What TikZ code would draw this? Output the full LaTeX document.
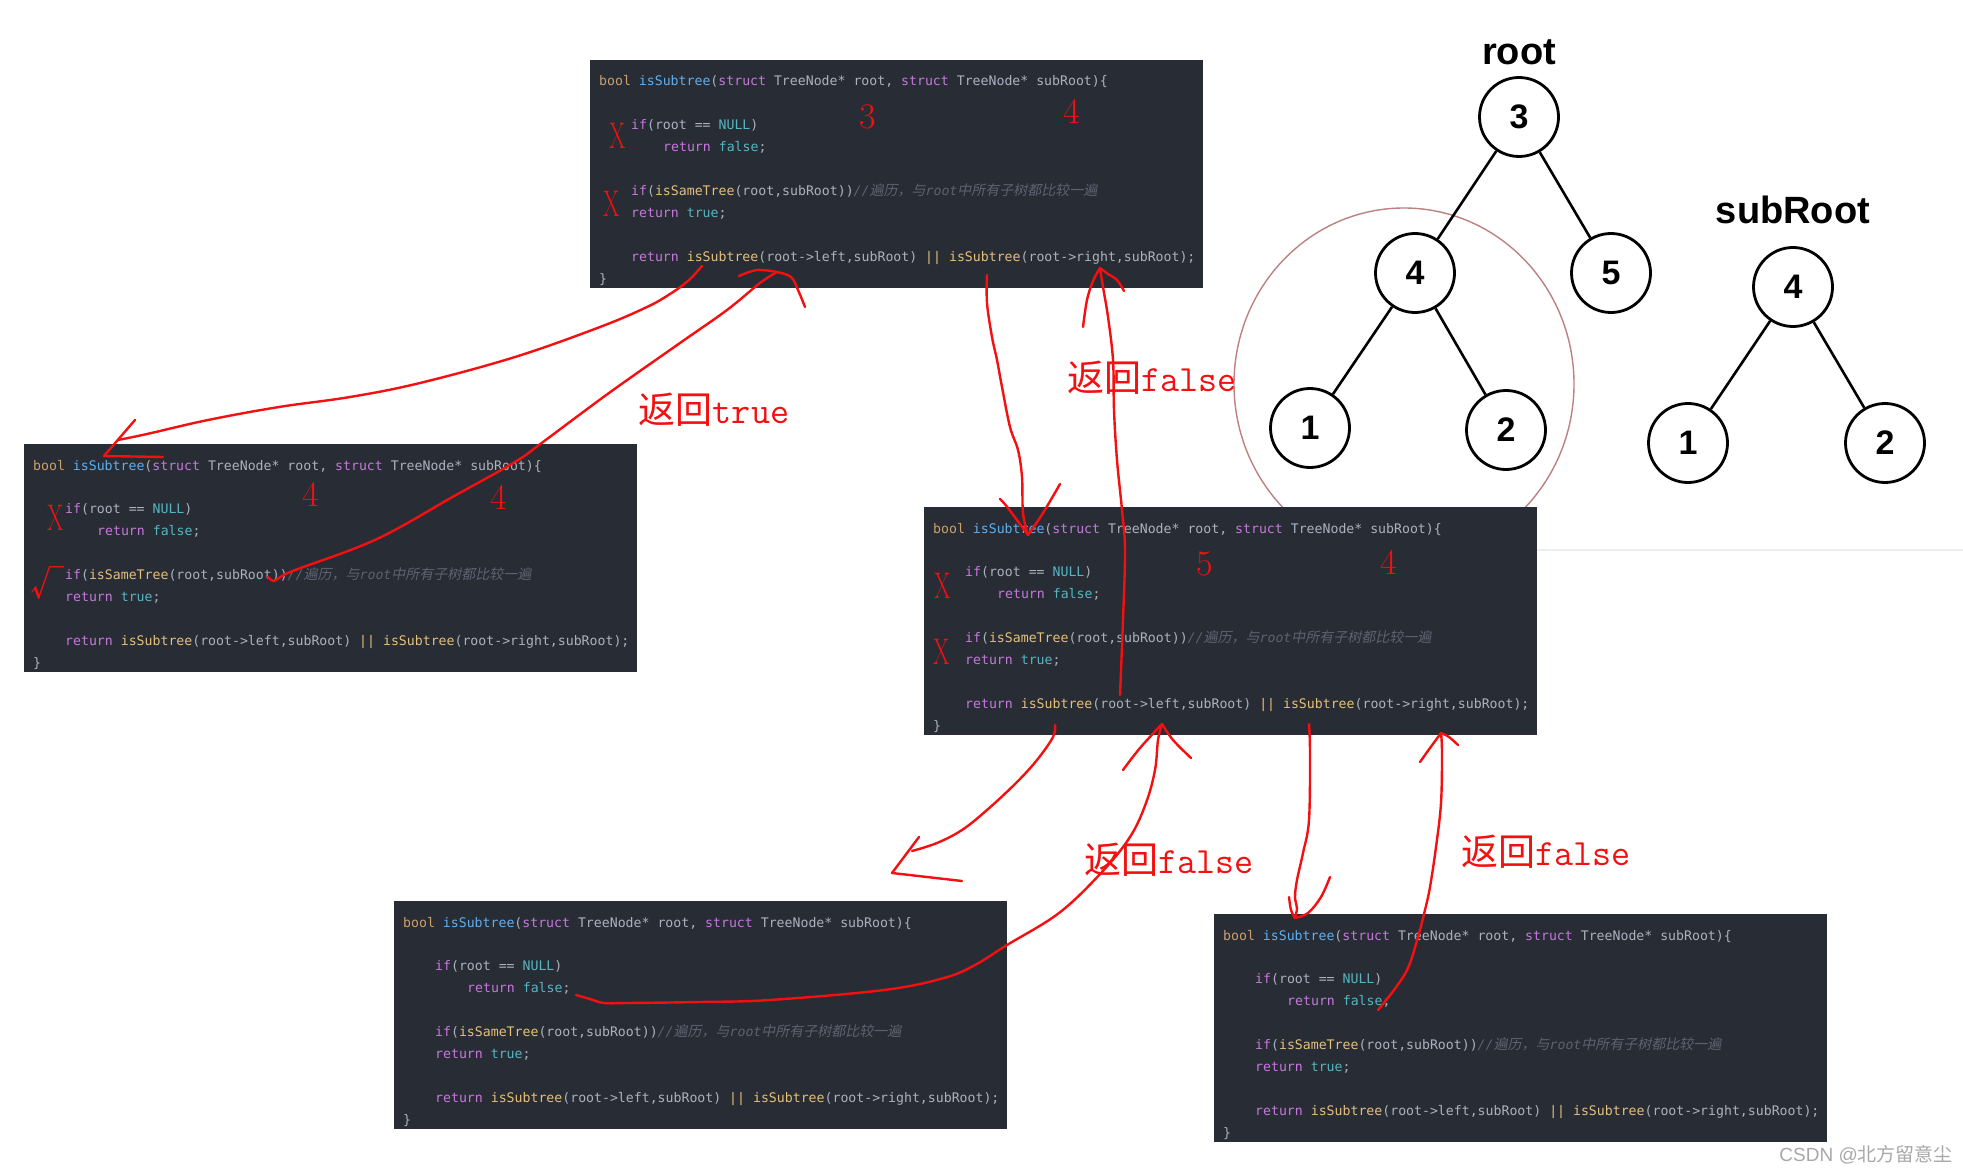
\documentclass[tikz,border=0pt]{standalone}
\usepackage{fontspec}
\usepackage{graphicx}
\newfontfamily\codefont{DejaVu Sans Mono}
\newfontfamily\cjkfont{Noto Sans CJK SC}
\newfontfamily\cjkit[FakeSlant=0.2]{Noto Sans CJK SC}
\newfontfamily\arialfont{Liberation Sans}
\usetikzlibrary{calc}

\definecolor{codebg}{HTML}{282C34}
\definecolor{cpl}{HTML}{ABB2BF}
\definecolor{ckw}{HTML}{CDA06C}
\definecolor{cfn}{HTML}{61AFEF}
\definecolor{cpu}{HTML}{C678DD}
\definecolor{ccy}{HTML}{56B6C2}
\definecolor{cye}{HTML}{E5C07B}
\definecolor{ccm}{HTML}{5C6370}
\definecolor{annred}{HTML}{F41010}
\definecolor{circbrown}{HTML}{BC8282}
\definecolor{wmgray}{HTML}{A8A8A8}
\definecolor{faint}{HTML}{ECEDF0}

\tikzset{
  codebox/.style={fill=codebg, draw=none, inner sep=0pt, outer sep=0pt,
    minimum width=613pt, minimum height=228pt, anchor=north west},
  codeline/.style={anchor=base west, inner sep=0pt, text=cpl,
    font=\codefont\fontsize{13.2}{15}\selectfont},
  ann/.style={draw=annred, line width=2.4pt, line cap=round, line join=round},
  annnum/.style={text=annred, inner sep=0pt, font=\rmfamily\fontsize{36}{36}\selectfont},
  annx/.style={text=annred, inner sep=0pt, font=\rmfamily\fontsize{37}{37}\selectfont},
  anncheck/.style={text=annred, inner sep=0pt, font=\cjkfont\fontsize{34}{34}\selectfont},
  lbl/.style={text=annred, inner sep=0pt, font=\fontsize{37}{37}\selectfont},
  tnode/.style={circle, draw=black, line width=2.8pt, minimum size=79pt, inner sep=0pt,
    font=\arialfont\bfseries\fontsize{34}{34}\selectfont},
  tedge/.style={draw=black, line width=2.6pt},
  ttl/.style={inner sep=0pt, font=\arialfont\bfseries\fontsize{38}{38}\selectfont},
  circ/.style={draw=circbrown, line width=1.4pt},
  wm/.style={text=wmgray, inner sep=0pt, font=\fontsize{19}{19}\selectfont},
}

\newcommand\redx{\scalebox{0.64}[1]{X}}

\newcommand\mycodeblock[3]{%
  \node[codebox] (#1) at (#2,#3) {};
  \node[codeline] (#1-l0) at ($(#1.north west)+(9,26)$)
    {\textcolor{ckw}{bool} \textcolor{cfn}{isSubtree}(\textcolor{cpu}{struct} TreeNode* root, \textcolor{cpu}{struct} TreeNode* subRoot)\{};
  \node[codeline] (#1-l2) at ($(#1.north west)+(41,69.9)$)
    {\textcolor{cpu}{if}(root == \textcolor{ccy}{NULL})};
  \node[codeline] (#1-l3) at ($(#1.north west)+(73,91.85)$)
    {\textcolor{cpu}{return} \textcolor{ccy}{false};};
  \node[codeline] (#1-l5) at ($(#1.north west)+(41,135.75)$)
    {\textcolor{cpu}{if}(\textcolor{cye}{isSameTree}(root,subRoot))\textcolor{ccm}{\itshape //{\upshape\cjkit\fontsize{14}{14}\selectfont 遍历，与}root{\upshape\cjkit\fontsize{14}{14}\selectfont 中所有子树都比较一遍}}};
  \node[codeline] (#1-l6) at ($(#1.north west)+(41,157.7)$)
    {\textcolor{cpu}{return} \textcolor{ccy}{true};};
  \node[codeline] (#1-l8) at ($(#1.north west)+(41,201.6)$)
    {\textcolor{cpu}{return} \textcolor{cye}{isSubtree}(root->left,subRoot) \textcolor{cye}{||} \textcolor{cye}{isSubtree}(root->right,subRoot);};
  \node[codeline] (#1-l9) at ($(#1.north west)+(9,223.55)$) {\}};
}

\begin{document}
\begin{tikzpicture}[x=1pt, y=-1pt]
\useasboundingbox (0,0) rectangle (1963,1174);
\fill[white] (0,0) rectangle (1963,1174);

% faint border of tree picture
\draw[faint, line width=1.5pt] (1537,550) -- (1963,550);

% highlight ellipse around subtree
\draw[circ] (1404,384) ellipse [x radius=170pt, y radius=176pt];

% trees
\node[ttl] (troot) at (1519,52) {root};
\node[tnode] (r3) at (1519,117) {3};
\node[tnode] (r4) at (1415,273) {4};
\node[tnode] (r5) at (1611,273) {5};
\node[tnode] (r1) at (1310,428) {1};
\node[tnode] (r2) at (1506,430) {2};
\draw[tedge] (r3) -- (r4);
\draw[tedge] (r3) -- (r5);
\draw[tedge] (r4) -- (r1);
\draw[tedge] (r4) -- (r2);

\node[ttl] (tsub) at (1793,210) {subRoot};
\node[tnode] (s4) at (1793,287) {4};
\node[tnode] (s1) at (1688,443) {1};
\node[tnode] (s2) at (1885,443) {2};
\draw[tedge] (s4) -- (s1);
\draw[tedge] (s4) -- (s2);

% code blocks
\mycodeblock{b1}{590}{60}
\mycodeblock{b2}{24}{444}
\mycodeblock{b3}{924}{507}
\mycodeblock{b4}{394}{901}
\mycodeblock{b5}{1214}{914}

% red marks
\node[annx] (x11) at (618,136) {\redx};
\node[annx] (x12) at (612,204) {\redx};
\node[annnum] (n13) at (868,117) {3};
\node[annnum] (n14) at (1072,111) {4};

\node[annx] (x21) at (56,518) {\redx};
\node[anncheck] (c22) at (47,583) {√};
\node[annnum] (n23) at (311,494) {4};
\node[annnum] (n24) at (499,497) {4};

\node[annx] (x31) at (943,586) {\redx};
\node[annx] (x32) at (942,652) {\redx};
\node[annnum] (n33) at (1205,564) {5};
\node[annnum] (n34) at (1389,562) {4};

% labels
\node[lbl] (L1) at (714,410) {{\cjkfont 返回}{\ttfamily true}};
\node[lbl] (L2) at (1152,378) {{\cjkfont 返回}{\ttfamily false}};
\node[lbl] (L3) at (1169,860) {{\cjkfont 返回}{\ttfamily false}};
\node[lbl] (L4) at (1546,852) {{\cjkfont 返回}{\ttfamily false}};

% connector end points
\coordinate (aS) at (702,266); \coordinate (aE) at (118,440);
\coordinate (aW1) at (135,420); \coordinate (aT) at (104,456); \coordinate (aW2) at (163,457);
\coordinate (bS) at (268,577); \coordinate (bT) at (777,272);
\coordinate (bW1) at (739,276); \coordinate (bW2) at (805,307);
\coordinate (cS) at (987,275); \coordinate (cT) at (1028,535);
\coordinate (cW1) at (1000,499); \coordinate (cW2) at (1060,484);
\coordinate (dS) at (1120,695); \coordinate (dT) at (1100,268);
\coordinate (dW1) at (1083,327); \coordinate (dW2) at (1124,291);
\coordinate (eS) at (1055,725); \coordinate (eE) at (912,851);
\coordinate (eW1) at (919,837); \coordinate (eT) at (892,873); \coordinate (eW2) at (962,881);
\coordinate (fS) at (576,995); \coordinate (fT) at (1162,724);
\coordinate (fW1) at (1123,770); \coordinate (fW2) at (1191,758);
\coordinate (gS) at (1309,724); \coordinate (gT) at (1295,918);
\coordinate (gW1) at (1289,897); \coordinate (gW2) at (1330,877);
\coordinate (hS) at (1378,1010); \coordinate (hT) at (1441,733);
\coordinate (hW1) at (1420,762); \coordinate (hW2) at (1458,745);

% A: call left from b1 to b2
\draw[ann] plot[smooth, tension=0.6] coordinates {(aS) (688,281) (670,294) (647,307) (600,327) (515,357) (420,383) (350,397) (279,407) (208,420) (147,434) (aE)};
\draw[ann] (aW1) -- (aT) -- (aW2);
% B: return true from b2 to b1
\draw[ann] plot[smooth, tension=0.6] coordinates {(bS) (274,581) (282,576) (298,569) (377,539) (456,495) (515,462) (543,442) (609,393) (680,343) (727,310) (760,283) (bT)};
\draw[ann] plot[smooth, tension=0.6] coordinates {(bW1) (757,270) (bT)};
\draw[ann] plot[smooth, tension=0.6] coordinates {(bT) (791,277) (798,290) (bW2)};
% C: call right from b1 to b3
\draw[ann] plot[smooth, tension=0.6] coordinates {(cS) (987,303) (992,337) (997,360) (1002,387) (1010,427) (1018,450) (1022,477) (1023,513) (cT)};
\draw[ann] plot[smooth, tension=0.6] coordinates {(cW1) (1008,508) (cT)};
\draw[ann] plot[smooth, tension=0.6] coordinates {(cT) (1043,513) (cW2)};
% D: return false from b3 to b1
\draw[ann] plot[smooth, tension=0.6] coordinates {(dS) (1123,620) (1125,550) (1122,510) (1117,460) (1114,410) (1113,360) (1108,317) (1103,287) (dT)};
\draw[ann] plot[smooth, tension=0.6] coordinates {(dW1) (1087,300) (1093,281) (dT)};
\draw[ann] plot[smooth, tension=0.6] coordinates {(dT) (1108,274) (1117,280) (dW2)};
% E: call left from b3
\draw[ann] plot[smooth, tension=0.6] coordinates {(eS) (1053,737) (1037,760) (1016,783) (987,810) (962,830) (937,843) (eE)};
\draw[ann] (eW1) -- (eT) -- (eW2);
% F: return false from b4 to b3
\draw[ann] plot[smooth, tension=0.6] coordinates {(fS) (590,999) (604,1003) (627,1003) (700,1002) (770,1000) (884,990) (944,978) (975,965) (1007,945) (1059,913) (1101,873) (1130,837) (1146,803) (1155,770) (1158,740) (fT)};
\draw[ann] plot[smooth, tension=0.6] coordinates {(fW1) (1140,748) (fT)};
\draw[ann] plot[smooth, tension=0.6] coordinates {(fT) (1173,740) (fW2)};
% G: call right from b3 to b5
\draw[ann] plot[smooth, tension=0.6] coordinates {(gS) (1310,753) (1309,820) (1303,853) (1297,880) (1295,897) (1297,908) (gT)};
\draw[ann] plot[smooth, tension=0.6] coordinates {(gW1) (1291,910) (gT)};
\draw[ann] plot[smooth, tension=0.6] coordinates {(gT) (1308,913) (1321,897) (gW2)};
% H: return false from b5 to b3
\draw[ann] plot[smooth, tension=0.6] coordinates {(hS) (1394,990) (1408,968) (1418,937) (1425,910) (1430,887) (1436,847) (1441,803) (1442,753) (hT)};
\draw[ann] plot[smooth, tension=0.6] coordinates {(hW1) (1430,748) (hT)};
\draw[ann] plot[smooth, tension=0.6] coordinates {(hT) (1449,737) (hW2)};

% watermark
\node[wm, anchor=east] (wmk) at (1953,1155) {{\arialfont CSDN @}{\cjkfont 北方留意尘}};
\end{tikzpicture}
\end{document}
